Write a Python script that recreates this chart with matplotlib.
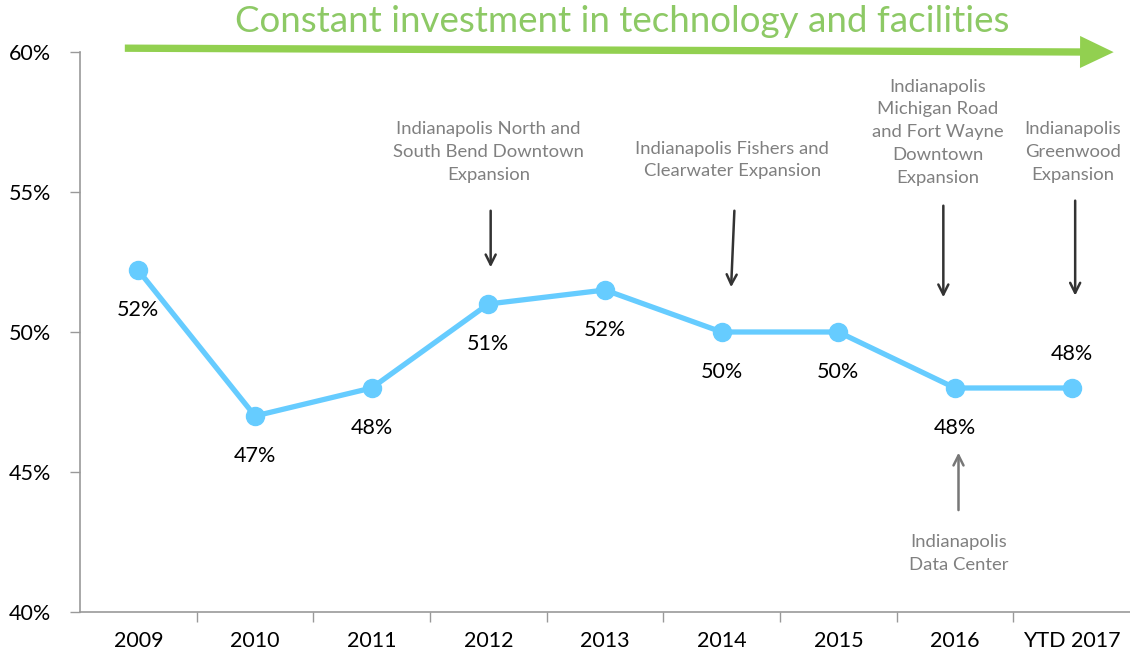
import matplotlib.pyplot as plt
import numpy as np

plt.rcParams['font.family'] = ['Lato', 'DejaVu Sans']

years = ['2009', '2010', '2011', '2012', '2013', '2014', '2015', '2016', 'YTD 2017']
margin = [52.2, 47.0, 48.0, 51.0, 51.5, 50.0, 50.0, 48.0, 48.0]
labels = ['52%', '47%', '48%', '51%', '52%', '50%', '50%', '48%', '48%']
label_above = [False, False, False, False, False, False, False, False, True]

# (text, text x, text y, arrow from (x, y) to (x, y))
notes = [
    ('Indianapolis North and\nSouth Bend Downtown\nExpansion', 3.0, 56.43, (3.02, 54.43), (3.02, 52.21)),
    ('Indianapolis Fishers and\nClearwater Expansion', 5.09, 56.14, (5.11, 54.43), (5.08, 51.5)),
    ('Indianapolis\nMichigan Road\nand Fort Wayne\nDowntown\nExpansion', 6.85, 57.14, (6.90, 54.61), (6.90, 51.14)),
    ('Indianapolis\nGreenwood\nExpansion', 8.01, 56.43, (8.03, 54.79), (8.03, 51.2)),
    ('Indianapolis\nData Center', 7.03, 42.1, (7.03, 43.54), (7.03, 45.79)),
]

fig = plt.figure(figsize=(11.3, 6.6), dpi=100)
ax = fig.add_axes([80 / 1130, 1 - 612 / 660, 1 - 80 / 1130, (612 - 52) / 660])

x = np.arange(len(years))
ax.plot(x, margin, color='#66CCFF', lw=3.8, marker='o', ms=13, zorder=3)

for xi, v, lab, up in zip(x, margin, labels, label_above):
    off = 34 if up else -40
    ax.annotate(lab, (xi, v), xytext=(0, off), textcoords='offset pixels',
                ha='center', va='center', fontsize=15.5, color='black')

for i, (txt, tx, ty, p0, p1) in enumerate(notes):
    ax.text(tx, ty, txt, ha='center', va='center', fontsize=13.3, color='#808080',
            linespacing=1.52)
    col = '#777777' if i == 4 else '#333333'
    ax.annotate('', xy=p1, xytext=p0,
                arrowprops=dict(arrowstyle='->', color=col, lw=1.8, mutation_scale=18))

ax.set_xlim(-0.5, len(years) - 0.5)
ax.set_ylim(40, 60)
ax.set_yticks([40, 45, 50, 55, 60])
ax.set_yticklabels(['40%', '45%', '50%', '55%', '60%'])
ax.set_xticks(x)
ax.set_xticklabels(years)
ax.set_xticks(np.arange(0.5, len(years) - 0.5, 1), minor=True)
ax.tick_params(axis='x', which='major', length=0, pad=14, labelsize=15.5)
ax.tick_params(axis='x', which='minor', length=7, color='#999999', width=1)
ax.tick_params(axis='y', length=7, color='#999999', width=1, labelsize=15.5, pad=14)

for s in ['top', 'right']:
    ax.spines[s].set_visible(False)
for s in ['left', 'bottom']:
    ax.spines[s].set_color('#999999')
    ax.spines[s].set_linewidth(1.2)

# headline arrow
fig.text(0.551, 0.968, 'Constant investment in technology and facilities',
         ha='center', va='center', fontsize=26.5, color='#8DC965')
fig.patches.append(plt.matplotlib.patches.FancyArrowPatch(
    (0.108, 0.927), (0.988, 0.921), transform=fig.transFigure,
    arrowstyle='simple,head_length=1.1,tail_width=0.24,head_width=1.05',
    mutation_scale=22, color='#92D050', lw=0))

fig.savefig('out.png', dpi=100)
